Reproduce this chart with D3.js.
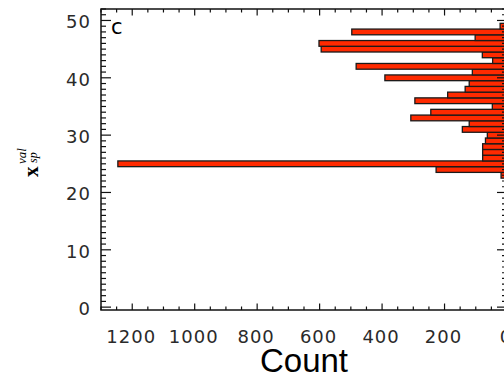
<!DOCTYPE html>
<html>
<head>
<meta charset="utf-8">
<script src="https://cdn.jsdelivr.net/npm/d3@7"></script>
<style>
  body { margin: 0; background: #fff; }
  svg { display: block; }
</style>
</head>
<body>
<div id="chart"></div>
<script>
// histogram bins (centre value) and their counts
var bins = [23, 24, 25, 26, 27, 28, 29, 30, 31, 32, 33, 34, 35, 36, 37, 38, 39, 40, 41, 42, 43, 44, 45, 46, 47, 48, 49];
var counts = [19, 227, 1246, 78, 78, 78, 69, 63, 143, 121, 308, 244, 47, 295, 190, 134, 121, 391, 111, 483, 46, 79, 595, 602, 102, 497, 22];
var xTicks = [1200, 1000, 800, 600, 400, 200, 0];
var yTicks = [0, 10, 20, 30, 40, 50];

var width = 504, height = 377;
// plot box (right edge falls just outside the window, as in the original)
var margin = { left: 101, right: 507, top: 9, bottom: 310 };

var svg = d3.select("#chart").append("svg")
  .attr("width", width)
  .attr("height", height);

// reversed count axis, bars grow leftwards from 0
var x = d3.scaleLinear().domain([1300, 0]).range([margin.left, margin.right]);
var y = d3.scaleLinear().domain([-0.5, 52]).range([margin.bottom, margin.top]);

var data = bins.map(function (b, i) { return { bin: b, count: counts[i] }; });

// bars
svg.append("g").selectAll("rect")
  .data(data)
  .enter().append("rect")
  .attr("x", function (d) { return x(d.count); })
  .attr("y", function (d) { return y(d.bin + 0.5); })
  .attr("width", function (d) { return x(0) - x(d.count); })
  .attr("height", function (d) { return y(d.bin - 0.5) - y(d.bin + 0.5); })
  .attr("fill", "#ff2a00")
  .attr("stroke", "#1a1a1a")
  .attr("stroke-width", 1.3);

// ticks: minor + major on all four sides
var xMinor = d3.range(0, 1301, 50);
var yMinor = d3.range(0, 53, 1);
var tickG = svg.append("g").attr("stroke", "#111").attr("stroke-width", 1.2);

xMinor.forEach(function (v) {
  var len = v % 200 === 0 ? 6.5 : 3.5;
  tickG.append("line").attr("x1", x(v)).attr("x2", x(v)).attr("y1", margin.bottom).attr("y2", margin.bottom - len);
  tickG.append("line").attr("x1", x(v)).attr("x2", x(v)).attr("y1", margin.top).attr("y2", margin.top + len);
});
yMinor.forEach(function (v) {
  var len = v % 10 === 0 ? 10 : 5;
  tickG.append("line").attr("y1", y(v)).attr("y2", y(v)).attr("x1", margin.left).attr("x2", margin.left + len);
  tickG.append("line").attr("y1", y(v)).attr("y2", y(v)).attr("x1", margin.right).attr("x2", margin.right - len);
});

// frame
svg.append("rect")
  .attr("x", margin.left).attr("y", margin.top)
  .attr("width", margin.right - margin.left).attr("height", margin.bottom - margin.top)
  .attr("fill", "none")
  .attr("stroke", "#111")
  .attr("stroke-width", 1.5);

// tick labels
svg.append("g").selectAll("text")
  .data(xTicks)
  .enter().append("text")
  .attr("x", function (d) { return x(d) - 1; })
  .attr("y", 343)
  .attr("text-anchor", "middle")
  .style("font-family", "DejaVu Sans")
  .style("font-size", "18px")
  .style("letter-spacing", "1px")
  .style("fill", "#2a2a2a")
  .text(function (d) { return d; });

svg.append("g").selectAll("text")
  .data(yTicks)
  .enter().append("text")
  .attr("x", 91)
  .attr("y", function (d) { return y(d) + 8; })
  .attr("text-anchor", "end")
  .style("font-family", "DejaVu Sans")
  .style("font-size", "18px")
  .style("letter-spacing", "1px")
  .style("fill", "#2a2a2a")
  .text(function (d) { return d; });

// panel letter
svg.append("text")
  .attr("x", 111).attr("y", 34)
  .style("font-family", "DejaVu Sans")
  .style("font-size", "21px")
  .style("fill", "#000")
  .text("c");

// x axis title
svg.append("text")
  .attr("x", (margin.left + margin.right) / 2)
  .attr("y", 372)
  .attr("text-anchor", "middle")
  .style("font-family", "Liberation Sans")
  .style("font-size", "33px")
  .style("fill", "#000")
  .text("Count");

// y axis title: bold x with italic super/subscripts, rotated
var yt = svg.append("g").attr("transform", "translate(38,177) rotate(-90)");
yt.append("text")
  .attr("x", 0).attr("y", 0)
  .style("font-family", "Liberation Serif")
  .style("font-weight", "bold")
  .style("font-size", "21px")
  .text("x");
yt.append("text")
  .attr("x", 13).attr("y", -12)
  .style("font-family", "Liberation Serif")
  .style("font-style", "italic")
  .style("font-size", "13px")
  .text("val");
yt.append("text")
  .attr("x", 14).attr("y", -1)
  .style("font-family", "Liberation Serif")
  .style("font-style", "italic")
  .style("font-size", "12px")
  .text("sp");
</script>
</body>
</html>
